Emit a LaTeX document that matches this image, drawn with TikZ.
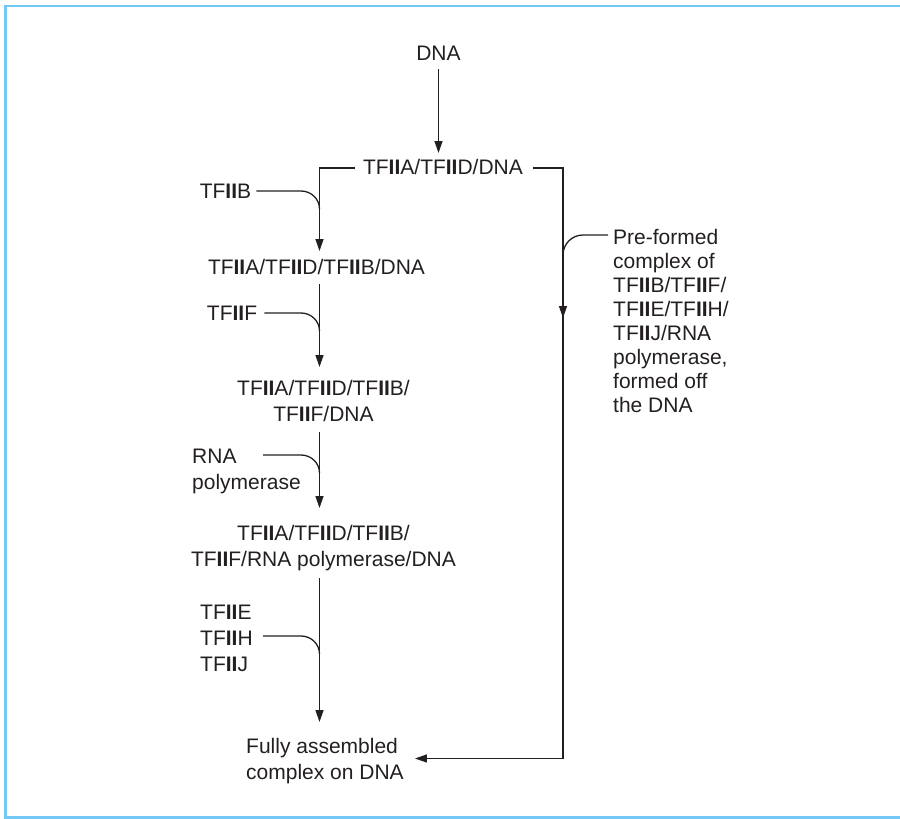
\documentclass[tikz,border=0pt]{standalone}
\usepackage{fontspec}
\setmainfont{Liberation Sans}
\usetikzlibrary{arrows.meta}
\definecolor{ink}{HTML}{231F20}
\definecolor{framecol}{HTML}{73C8F5}
\newcommand{\tfii}{TF\textbf{II}}
\begin{document}
\begin{tikzpicture}[x=1pt,y=-1pt,
  lbl/.style={inner sep=0pt, text=ink, anchor=base, font=\fontsize{21}{26}\selectfont, align=center},
  lbll/.style={lbl, anchor=base west, align=left},
  flow/.style={line width=1.3pt, draw=ink},
  arr/.style={flow, -{Triangle[length=12pt,width=8pt]}}]
\useasboundingbox (0,0) rectangle (900,819);
% frame
\draw[framecol, line width=2.6pt] (5.3,819) -- (5.3,6) -- (900,6);
\draw[framecol, line width=2.6pt] (5.3,817.7) -- (900,817.7);

% main column (multi-line labels are placed by their last baseline)
\node[lbl] (dna) at (438.5,60) {DNA};
\node[lbl] (c1) at (443,174) {\tfii A/\tfii D/DNA};
\node[lbl] (b) at (225.5,198) {\tfii B};
\node[lbl] (c2) at (316.5,274) {\tfii A/\tfii D/\tfii B/DNA};
\node[lbl] (f) at (232,320) {\tfii F};
\node[lbl] (c3) at (323.5,421) {\tfii A/\tfii D/\tfii B/\\\tfii F/DNA};
\node[lbll] (rna) at (192,489) {RNA\\polymerase};
\node[lbl] (c4) at (323.5,566) {\tfii A/\tfii D/\tfii B/\\\tfii F/RNA polymerase/DNA};
\node[lbll] (ehj) at (200,671) {\tfii E\\\tfii H\\\tfii J};
\node[lbll] (full) at (246,779) {Fully assembled\\complex on DNA};
\node[lbll, font=\fontsize{21}{23.9}\selectfont] (pre) at (613,412)
  {Pre-formed\\complex of\\\tfii B/\tfii F/\\\tfii E/\tfii H/\\\tfii J/RNA\\polymerase,\\formed off\\the DNA};

% junctions
\coordinate (j1) at (319.5,168);
\coordinate (t2) at (319.5,251);
\coordinate (t3) at (319.5,367);
\coordinate (t4) at (319.5,508);
\coordinate (t5) at (319.5,722);
\coordinate (r1) at (563,168);
\coordinate (rm) at (563,318);
\coordinate (r2) at (563,758.5);
\path (full.east |- r2) ++(11,0) coordinate (fe);

\draw[arr] (dna.south) ++(0,9) -- (438.5,153);
\draw[arr] (c1.west |- j1) ++(-8,0) -- (j1) -- (t2);
\draw[flow] (c1.east |- r1) ++(10,0) -- (r1) -- (rm);
\draw[arr] (563,240) -- (rm);
\draw[flow] (rm) -- (r2);
\draw[arr] (r2) -- (fe);
\draw[arr] (319.5,284) -- (t3);
\draw[arr] (319.5,432) -- (t4);
\draw[arr] (319.5,578) -- (t5);

% side inputs
\draw[flow] (b.east |- 0,191) ++(5,0) -- (301,191) to[out=0,in=90] (319.5,209);
\draw[flow] (f.east |- 0,313) ++(7,0) -- (301,313) to[out=0,in=90] (319.5,331);
\draw[flow] (263,455) -- (301,455) to[out=0,in=90] (319.5,473);
\draw[flow] (263,636) -- (301,636) to[out=0,in=90] (319.5,654);
\draw[flow] (pre.west |- 0,235) ++(-5,0) -- (583,235) to[out=180,in=90] (563,255);
\end{tikzpicture}
\end{document}
